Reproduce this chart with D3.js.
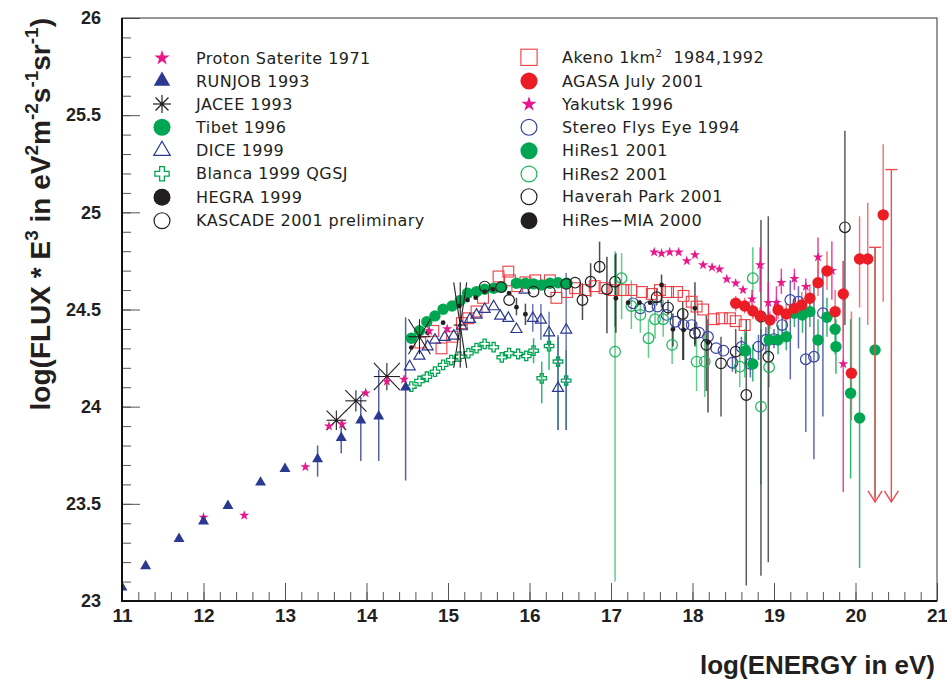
<!DOCTYPE html>
<html><head><meta charset="utf-8">
<script src="https://cdn.jsdelivr.net/npm/d3@7"></script>
<style>
html,body{margin:0;padding:0;background:#fff;}
svg{display:block;}
</style></head>
<body>
<svg id="chart" width="947" height="682"></svg>
<script>
// ---------------- DATA ----------------
const xTicks = [11,12,13,14,15,16,17,18,19,20,21];
const yTicks = [23,23.5,24,24.5,25,25.5,26];

const protonE = [12.0,12.5,13.25,13.54,13.70,13.99,14.25,14.46,14.77,14.99];
const protonF = [23.43,23.44,23.69,23.90,23.91,24.07,24.13,24.14,24.39,24.40];

const runjobE = [11.0,11.29,11.70,12.0,12.30,12.70,13.0,13.40,13.69,13.93,14.15,14.48];
const runjobF = [23.07,23.18,23.32,23.41,23.49,23.61,23.68,23.73,23.84,23.93,23.95,24.10];
const runjobLo = [null,null,null,null,null,null,null,23.64,23.76,23.72,23.72,23.62];
const runjobHi = [null,null,null,null,null,null,null,23.80,23.93,24.05,24.19,24.46];

const jaceeE = [13.63,13.87,14.25,14.65,15.15];
const jaceeF = [23.93,24.03,24.155,24.36,24.42];
const jaceeDE = [0.12,0.13,0.16,0.135,0.08];
const jaceeLo = [23.88,23.975,24.085,24.27,24.20];
const jaceeHi = [23.98,24.085,24.225,24.45,24.64];

const tibetE = [14.55,14.65,14.74,14.84,14.94,15.05,15.15,15.24,15.35,15.45,15.56,15.66,15.84,15.95,16.05,16.15,16.25,16.35,16.46];
const tibetF = [24.352,24.391,24.437,24.467,24.501,24.518,24.546,24.584,24.592,24.604,24.609,24.615,24.635,24.635,24.632,24.626,24.635,24.638,24.635];

const diceE = [14.53,14.65,14.75,14.84,14.96,15.07,15.17,15.27,15.35,15.45,15.56,15.64,15.74,15.84,15.94,16.04,16.14,16.24,16.35,16.45];
const diceF = [24.206,24.261,24.309,24.343,24.357,24.364,24.412,24.450,24.472,24.501,24.515,24.467,24.455,24.398,24.601,24.455,24.446,24.381,24.095,24.395];
const diceLo = [null,null,null,null,null,null,null,null,null,null,null,null,null,null,null,24.386,24.343,24.309,23.88,23.88];
const diceHi = [null,null,null,null,null,null,null,null,null,null,null,null,null,null,null,24.528,24.528,24.489,24.369,24.688];

const blancaE = [14.55,14.65,14.74,14.84,14.94,15.04,15.14,15.25,15.35,15.45,15.56,15.66,15.75,15.86,15.96,16.05,16.15,16.24,16.35,16.45];
const blancaF = [24.103,24.132,24.154,24.180,24.215,24.240,24.257,24.275,24.301,24.323,24.306,24.254,24.275,24.271,24.261,24.288,24.146,24.312,24.232,24.134];
const blancaLo = [null,null,null,null,null,null,null,null,null,null,null,null,null,null,null,24.223,24.017,24.189,23.88,23.88];
const blancaHi = [null,null,null,null,null,null,null,null,null,null,null,null,null,null,null,24.352,24.232,24.394,24.36,24.29];

const hegraE = [14.55,14.75,14.94,15.14,15.24,15.34,15.45,15.55,15.75,15.84,15.95];
const hegraF = [24.304,24.381,24.432,24.518,24.549,24.561,24.592,24.604,24.584,24.512,24.476];
const hegraLo = [null,null,null,null,null,null,null,null,null,24.47,24.42];
const hegraHi = [null,null,null,null,null,null,null,null,null,24.56,24.53];

const kascadeE = [15.45,15.65,15.75,16.05,16.25,16.45,16.56,16.65,16.75,16.86,16.95,17.05];
const kascadeF = [24.618,24.615,24.549,24.592,24.592,24.632,24.638,24.549,24.643,24.720,24.604,24.643];
const kascadeLo = [null,null,null,null,null,null,null,24.446,24.566,24.687,24.378,24.412];
const kascadeHi = [null,null,null,null,null,null,null,24.635,24.738,24.849,24.772,24.781];

const akenoE = [14.66,14.82,14.92,15.05,15.17,15.25,15.35,15.43,15.62,15.74,15.76,15.85,15.95,16.07,16.25,16.33,16.46,16.56,16.68,16.80,16.92,17.03,17.15,17.25,17.38,17.50,17.60,17.70,17.81,17.89,17.99,18.05,18.13,18.26,18.36,18.46,18.53,18.64];
const akenoF = [24.33,24.39,24.30,24.36,24.43,24.455,24.49,24.56,24.67,24.695,24.65,24.62,24.64,24.65,24.65,24.56,24.59,24.61,24.60,24.62,24.61,24.60,24.60,24.60,24.59,24.58,24.60,24.59,24.59,24.57,24.54,24.515,24.50,24.45,24.455,24.455,24.44,24.42];

const agasaE = [18.53,18.64,18.74,18.83,18.95,19.05,19.15,19.25,19.34,19.44,19.54,19.65,19.75,19.85,19.95,20.05,20.15,20.34];
const agasaF = [24.532,24.518,24.492,24.467,24.446,24.498,24.477,24.506,24.523,24.558,24.638,24.698,24.489,24.58,24.172,24.76,24.76,24.987];
const agasaLo = [24.49,24.48,24.45,24.43,24.40,24.45,24.43,24.45,24.46,24.49,24.57,24.60,24.38,24.34,23.93,24.51,24.42,24.54];
const agasaHi = [24.57,24.56,24.53,24.51,24.49,24.55,24.53,24.56,24.59,24.63,24.77,24.80,24.60,24.75,24.49,24.98,25.05,25.35];
const agasaLimE = [20.24,20.44];
const agasaLimTop = [24.82,25.22];
const agasaLimBottom = [23.51,23.51];

const yakutskE = [17.53,17.62,17.72,17.83,17.93,18.03,18.13,18.24,18.33,18.42,18.53,18.62,18.73,18.83,18.93,19.03,19.09,19.25,19.39,19.54,19.71,19.85];
const yakutskF = [24.795,24.789,24.795,24.795,24.750,24.781,24.729,24.717,24.707,24.656,24.635,24.601,24.553,24.729,24.535,24.535,24.638,24.659,24.618,24.769,24.700,24.220];
const yakutskLo = [null,null,null,null,null,null,null,null,null,null,null,null,24.50,24.59,24.45,24.44,24.58,24.60,24.56,24.65,24.55,23.56];
const yakutskHi = [null,null,null,null,null,null,null,null,null,null,null,null,24.60,24.82,24.64,24.62,24.71,24.71,24.66,24.87,24.85,24.75];

const stereoE = [17.27,17.36,17.47,17.57,17.68,17.79,17.89,17.99,18.08,18.19,18.29,18.38,18.49,18.60,18.71,18.81,18.90,19.00,19.10,19.20,19.30,19.39,19.49,19.60];
const stereoF = [24.532,24.506,24.515,24.515,24.472,24.437,24.420,24.420,24.381,24.360,24.301,24.288,24.226,24.307,24.220,24.309,24.343,24.348,24.420,24.549,24.540,24.244,24.257,24.481];
const stereoLo = [null,null,null,null,null,null,null,null,null,null,null,null,24.18,24.26,24.15,24.24,24.27,24.30,24.37,24.14,24.30,23.87,23.73,23.95];
const stereoHi = [null,null,null,null,null,null,null,null,null,null,null,null,24.27,24.36,24.29,24.37,24.41,24.40,24.47,24.65,24.62,24.45,24.65,24.71];

const hires1E = [18.65,18.74,18.94,19.05,19.15,19.25,19.35,19.44,19.54,19.65,19.75,19.76,19.94,20.05,20.24];
const hires1F = [24.287,24.220,24.343,24.343,24.360,24.481,24.472,24.489,24.343,24.460,24.398,24.309,24.069,23.942,24.292];
const hires1Lo = [24.20,24.13,24.26,24.27,24.29,24.41,24.38,24.41,24.24,24.36,24.27,24.17,23.63,23.17,23.53];
const hires1Hi = [24.38,24.32,24.44,24.42,24.44,24.55,24.56,24.57,24.45,24.56,24.52,24.45,24.45,24.46,24.82];

const hires2E = [17.05,17.13,17.25,17.36,17.46,17.54,17.64,17.75,18.05,18.15,18.58,18.64,18.74,18.84,18.94];
const hires2F = [24.283,24.661,24.518,24.472,24.352,24.450,24.450,24.318,24.232,24.232,24.206,24.295,24.661,24.000,24.203];
const hires2Lo = [23.10,24.45,24.40,24.38,24.25,24.35,24.36,24.22,24.08,24.05,24.10,24.15,24.55,23.60,24.10];
const hires2Hi = [24.80,24.79,24.65,24.55,24.45,24.55,24.55,24.42,24.35,24.38,24.30,24.40,24.82,24.40,24.32];

const haverahE = [17.56,17.70,17.88,18.03,18.17,18.35,18.53,18.66,18.84,18.93,19.87];
const haverahF = [24.563,24.510,24.477,24.378,24.318,24.223,24.283,24.060,24.463,24.257,24.923];
const haverahLo = [24.52,24.47,24.24,24.32,24.08,23.95,24.17,23.08,23.13,23.20,24.42];
const haverahHi = [24.61,24.55,24.54,24.43,24.47,24.36,24.40,24.45,24.96,24.98,25.42];

const hiresMiaE = [17.06,17.21,17.35,17.48,17.62,17.76,17.89,18.03,18.19];
const hiresMiaF = [24.558,24.535,24.535,24.535,24.626,24.398,24.395,24.506,24.330];
const hiresMiaLo = [24.38,null,null,null,24.51,24.31,24.24,24.31,23.97];
const hiresMiaHi = [24.79,null,null,null,24.68,24.48,24.50,24.64,24.45];

const legendLeft = ["Proton Saterite 1971","RUNJOB 1993","JACEE 1993","Tibet 1996","DICE 1999","Blanca 1999 QGSJ","HEGRA 1999","KASCADE 2001 preliminary"];
const legendRight = ["Akeno 1km","AGASA July 2001","Yakutsk 1996","Stereo Flys Eye 1994","HiRes1 2001","HiRes2 2001","Haverah Park 2001","HiRes\u2212MIA 2000"];

// ---------------- DRAWING ----------------
const C = {pink:"#e8178a", navy:"#2b3990", green:"#00a651", red:"#ec1c24", black:"#231f20", sblue:"#3944a0", lgreen:"#1db35c", sqred:"#ee3d45"};
const svg = d3.select("#chart");
const L=122, R=937, T=18, B=601;
const x = d3.scaleLinear().domain([11,21]).range([L,R]);
const y = d3.scaleLinear().domain([23,26]).range([B,T]);

svg.append("defs").append("clipPath").attr("id","clip")
  .append("rect").attr("x",L).attr("y",T).attr("width",R-L).attr("height",B-T);
const plot = svg.append("g").attr("clip-path","url(#clip)");
const errG = plot.append("g");
const markG = plot.append("g");

function zip(E,F,lo,hi){ return E.map((e,i)=>({e, f:F[i], lo: lo?lo[i]:null, hi: hi?hi[i]:null})); }

function drawMarker(g, type, cx, cy, sc, color){
  const s = sc*sc;
  if(type==="star"){
    g.append("path").attr("d", d3.symbol(d3.symbolStar, 32*s)()).attr("transform",`translate(${cx},${cy})`).attr("fill",color);
  } else if(type==="tri"){
    g.append("path").attr("d", d3.symbol(d3.symbolTriangle, 52*s)()).attr("transform",`translate(${cx},${cy})`).attr("fill",color);
  } else if(type==="triOpen"){
    g.append("path").attr("d", d3.symbol(d3.symbolTriangle, 52*s)()).attr("transform",`translate(${cx},${cy})`).attr("fill","none").attr("stroke",color).attr("stroke-width",1.2);
  } else if(type==="circle"){
    g.append("circle").attr("cx",cx).attr("cy",cy).attr("r",5.7*sc).attr("fill",color);
  } else if(type==="circleOpen"){
    g.append("circle").attr("cx",cx).attr("cy",cy).attr("r",5.3*sc).attr("fill","none").attr("stroke",color).attr("stroke-width",1.2);
  } else if(type==="square"){
    const h=5.4*sc;
    g.append("rect").attr("x",cx-h).attr("y",cy-h).attr("width",2*h).attr("height",2*h).attr("fill","none").attr("stroke",color).attr("stroke-width",1.1);
  } else if(type==="cross"){
    g.append("path").attr("d", d3.symbol(d3.symbolCross, 50*s)()).attr("transform",`translate(${cx},${cy})`).attr("fill","none").attr("stroke",color).attr("stroke-width",1.3);
  } else if(type==="dot"){
    g.append("circle").attr("cx",cx).attr("cy",cy).attr("r",sc>1?8.5:2.4).attr("fill",color);
  } else if(type==="aster"){
    const r=6*sc;
    [[0,-1],[1,0],[0.72,0.72],[0.72,-0.72]].forEach(([dx,dy])=>{
      g.append("line").attr("x1",cx-dx*r).attr("y1",cy-dy*r).attr("x2",cx+dx*r).attr("y2",cy+dy*r).attr("stroke",color).attr("stroke-width",1.2);
    });
    g.append("circle").attr("cx",cx).attr("cy",cy).attr("r",1.8).attr("fill",color);
  }
}

function series(data, type, color, errColor){
  data.forEach(d=>{
    if(d.lo!=null && d.hi!=null){
      errG.append("line").attr("x1",x(d.e)).attr("x2",x(d.e)).attr("y1",y(d.lo)).attr("y2",y(d.hi))
        .attr("stroke",errColor||color).attr("stroke-width",1.5).attr("opacity",0.8);
    }
  });
  data.forEach(d=>drawMarker(markG, type, x(d.e), y(d.f), 1, color));
}

// Order of drawing
series(zip(akenoE,akenoF), "square", C.sqred);
series(zip(blancaE,blancaF,blancaLo,blancaHi), "cross", C.green);
series(zip(diceE,diceF,diceLo,diceHi), "triOpen", C.navy, "#4d5aa8");
series(zip(tibetE,tibetF), "circle", C.green);
series(zip(kascadeE,kascadeF,kascadeLo,kascadeHi), "circleOpen", C.black);
series(zip(hegraE,hegraF,hegraLo,hegraHi), "dot", C.black);

// JACEE asterisks with error extents
jaceeE.forEach((e,i)=>{
  const cx=x(e), cy=y(jaceeF[i]);
  const x1=x(e-jaceeDE[i]), x2=x(e+jaceeDE[i]), y1=y(jaceeHi[i]), y2=y(jaceeLo[i]);
  const g=markG.append("g").attr("stroke",C.black).attr("stroke-width",1.1);
  g.append("line").attr("x1",cx).attr("x2",cx).attr("y1",y1).attr("y2",y2);
  g.append("line").attr("x1",x1).attr("x2",x2).attr("y1",cy).attr("y2",cy);
  g.append("line").attr("x1",x1).attr("x2",x2).attr("y1",y1).attr("y2",y2);
  g.append("line").attr("x1",x1).attr("x2",x2).attr("y1",y2).attr("y2",y1);
  markG.append("circle").attr("cx",cx).attr("cy",cy).attr("r",1.6).attr("fill",C.black);
});

series(zip(protonE,protonF), "star", C.pink);
series(zip(runjobE,runjobF,runjobLo,runjobHi), "tri", C.navy);
series(zip(stereoE,stereoF,stereoLo,stereoHi), "circleOpen", C.sblue);
series(zip(hires2E,hires2F,hires2Lo,hires2Hi), "circleOpen", C.lgreen, "#3cc070");
series(zip(haverahE,haverahF,haverahLo,haverahHi), "circleOpen", C.black, "#333");
series(zip(hiresMiaE,hiresMiaF,hiresMiaLo,hiresMiaHi), "dot", C.black);
series(zip(yakutskE,yakutskF,yakutskLo,yakutskHi), "star", C.pink);
series(zip(hires1E,hires1F,hires1Lo,hires1Hi), "circle", C.green);
series(zip(agasaE,agasaF,agasaLo,agasaHi), "circle", C.red, "#f0555b");

// AGASA upper limits
agasaLimE.forEach((e,i)=>{
  const cx=x(e), yt=y(agasaLimTop[i]), yb=y(agasaLimBottom[i]);
  const g=markG.append("g").attr("stroke","#ef4a52").attr("stroke-width",1.4).attr("fill","none");
  g.append("line").attr("x1",cx).attr("x2",cx).attr("y1",yt).attr("y2",yb);
  g.append("line").attr("x1",cx-6).attr("x2",cx+6).attr("y1",yt).attr("y2",yt);
  g.append("path").attr("d",`M${cx-7},${yb-11}L${cx},${yb}L${cx+7},${yb-11}`);
});

// ---------------- AXES ----------------
function styleAxis(g){ g.select(".domain").remove(); g.selectAll(".tick line").attr("stroke","#555").attr("stroke-width",1); }
svg.append("g").attr("transform",`translate(0,${B})`)
  .call(d3.axisBottom(x).tickValues(d3.range(0,51).map(i=>11+i*0.2)).tickSize(-9).tickFormat(""))
  .call(styleAxis);
svg.append("g").attr("transform",`translate(0,${B})`)
  .call(d3.axisBottom(x).tickValues(xTicks).tickSize(-18).tickPadding(8).tickFormat(d3.format("d")))
  .call(styleAxis)
  .call(g=>g.selectAll("text").attr("font-family","'Liberation Sans Narrow','Arial Narrow','Liberation Sans',Arial,sans-serif").attr("font-weight","bold").attr("font-size",19).attr("fill","#231f20"));
svg.append("g").attr("transform",`translate(${L},0)`)
  .call(d3.axisLeft(y).tickValues(d3.range(0,31).map(i=>23+i*0.1)).tickSize(-9).tickFormat(""))
  .call(styleAxis);
svg.append("g").attr("transform",`translate(${L},0)`)
  .call(d3.axisLeft(y).tickValues(yTicks).tickSize(-18).tickPadding(21).tickFormat(d=>d%1===0?String(d):d.toFixed(1)))
  .call(styleAxis)
  .call(g=>g.selectAll("text").attr("font-family","'Liberation Sans',Arial,sans-serif").attr("font-weight","bold").attr("font-size",18).attr("fill","#231f20"));

// frame
svg.append("rect").attr("x",L).attr("y",T).attr("width",R-L).attr("height",B-T).attr("fill","none").attr("stroke","#333").attr("stroke-width",1);
svg.append("line").attr("x1",L).attr("x2",L).attr("y1",T).attr("y2",B+1).attr("stroke","#111").attr("stroke-width",2);
svg.append("line").attr("x1",L-1).attr("x2",R).attr("y1",B).attr("y2",B).attr("stroke","#111").attr("stroke-width",2);

// axis titles
svg.append("text").attr("x",935).attr("y",674).attr("text-anchor","end")
  .attr("font-family","'Liberation Sans',Arial,sans-serif").attr("font-weight","bold").attr("font-size",26).attr("fill","#231f20")
  .text("log(ENERGY in eV)");

const yt = svg.append("text").attr("transform","translate(50,18) rotate(-90)").attr("text-anchor","end")
  .attr("font-family","'Liberation Sans',Arial,sans-serif").attr("font-weight","bold").attr("font-size",28).attr("fill","#231f20");
const parts = [["log(FLUX * E",0],["3",1],[" in eV",0],["2",1],["m",0],["-2",1],["s",0],["-1",1],["sr",0],["-1",1],[")",0]];
let sup=false;
parts.forEach(([t,s])=>{
  const ts = yt.append("tspan").text(t);
  if(s && !sup){ ts.attr("dy",-12).attr("font-size",19); sup=true; }
  else if(s){ ts.attr("font-size",19); }
  else if(!s && sup){ ts.attr("dy",12); sup=false; }
});

// ---------------- LEGEND ----------------
const leftTypes = [["star",C.pink],["tri",C.navy],["aster",C.black],["circle",C.green],["triOpen",C.navy],["cross",C.green],["dot",C.black],["circleOpen",C.black]];
const rightTypes = [["square",C.sqred],["circle",C.red],["star",C.pink],["circleOpen",C.sblue],["circle",C.green],["circleOpen",C.lgreen],["circleOpen",C.black],["dot",C.black]];
const rowsL = [58,81,104,127.3,150.7,173.7,197.3,220.7];
const rowsR = [57.3,81,104.3,127.3,150.7,174,196.7,220.7];
const lg = svg.append("g");
const legFont = "'DejaVu Sans',Verdana,sans-serif";
legendLeft.forEach((t,i)=>{
  drawMarker(lg, leftTypes[i][0], 162, rowsL[i], 1.5, leftTypes[i][1]);
  lg.append("text").attr("x",196).attr("y",rowsL[i]+5.7).attr("font-family",legFont).attr("font-size",16).attr("letter-spacing",0.45).attr("fill","#231f20").text(t);
});
legendRight.forEach((t,i)=>{
  drawMarker(lg, rightTypes[i][0], 529, rowsR[i], 1.5, rightTypes[i][1]);
  const tx = lg.append("text").attr("x",562).attr("y",rowsR[i]+5.7).attr("font-family",legFont).attr("font-size",16).attr("letter-spacing",0.45).attr("fill","#231f20").attr("xml:space","preserve");
  tx.append("tspan").text(t);
  if(i===0){
    tx.append("tspan").attr("dy",-6).attr("font-size",10).text("2");
    tx.append("tspan").attr("dy",6).text("\u00a0 1984,1992");
  }
});
</script>
</body></html>
